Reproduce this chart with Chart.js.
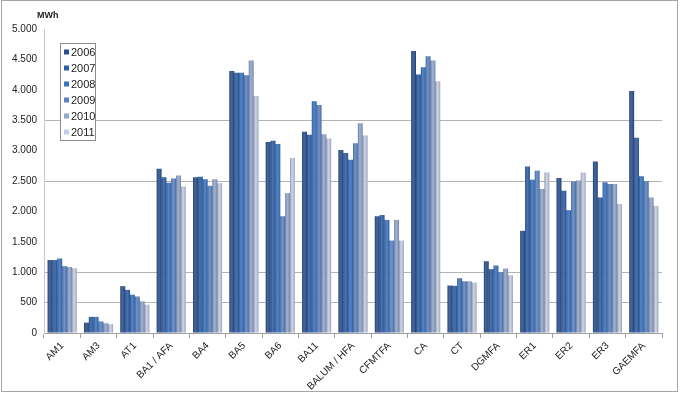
<!DOCTYPE html>
<html>
<head>
<meta charset="utf-8">
<script src="https://cdn.jsdelivr.net/npm/chart.js@4.4.0/dist/chart.umd.min.js"></script>
<style>
  html, body { margin: 0; padding: 0; background: #fff; }
  #wrap { position: relative; width: 682px; height: 395px; }
</style>
</head>
<body>
<div id="wrap"><canvas id="grafico" width="682" height="395"></canvas></div>
<script>
// categorias (centros) y consumo por año en MWh
const categorias = ['AM1', 'AM3', 'AT1', 'BA1 / AFA', 'BA4', 'BA5', 'BA6', 'BA11', 'BALUM / HFA',
  'CFMTFA', 'CA', 'CT', 'DGMFA', 'ER1', 'ER2', 'ER3', 'GAEMFA'];
const anios = ['2006', '2007', '2008', '2009', '2010', '2011'];

const v2006 = [1200, 170, 770, 2700, 2560, 4310, 3140, 3310, 3010, 1920, 4640, 780, 1180, 1680, 2550, 2820, 3980];
const v2007 = [1200, 265, 710, 2560, 2570, 4280, 3160, 3260, 2960, 1940, 4250, 775, 1050, 2740, 2340, 2230, 3210];
const v2008 = [1225, 265, 630, 2470, 2530, 4280, 3110, 3810, 2850, 1860, 4370, 900, 1110, 2520, 2020, 2480, 2580];
const v2009 = [1100, 190, 600, 2540, 2420, 4240, 1920, 3750, 3120, 1520, 4550, 850, 1000, 2670, 2490, 2450, 2500];
const v2010 = [1085, 160, 520, 2590, 2530, 4480, 2300, 3270, 3450, 1860, 4480, 850, 1060, 2370, 2510, 2450, 2230];
const v2011 = [1065, 145, 465, 2410, 2465, 3900, 2880, 3200, 3250, 1520, 4140, 830, 950, 2640, 2640, 2120, 2090];
const series = [v2006, v2007, v2008, v2009, v2010, v2011];

// valores del eje Y que llevan línea de cuadrícula en el original
const lineasGrid = [500, 1000, 2500, 3500];

const colores = ['#274f8c', '#2d5ea6', '#3873c0', '#5a84c2', '#91a6cc', '#c3cde2'];

// formato 5.000
function fmt(v) {
  return String(v).replace(/\B(?=(\d{3})+(?!\d))/g, '.');
}

// sombreado tipo cilindro sobre cada barra
const sombreado = {
  id: 'sombreado',
  afterDatasetsDraw(chart) {
    const ctx = chart.ctx;
    chart.data.datasets.forEach((ds, i) => {
      chart.getDatasetMeta(i).data.forEach(bar => {
        const x0 = bar.x - bar.width / 2;
        const x1 = bar.x + bar.width / 2;
        const g = ctx.createLinearGradient(x0, 0, x1, 0);
        g.addColorStop(0, 'rgba(0,0,30,0.30)');
        g.addColorStop(0.45, 'rgba(255,255,255,0.12)');
        g.addColorStop(1, 'rgba(0,0,30,0.22)');
        ctx.save();
        ctx.fillStyle = g;
        ctx.fillRect(x0, bar.y, x1 - x0, bar.base - bar.y);
        ctx.restore();
      });
    });
  }
};

// marco, unidad y leyenda dentro del área
const extras = {
  id: 'extras',
  afterDraw(chart) {
    const ctx = chart.ctx;
    ctx.save();
    ctx.strokeStyle = '#a6a6a6';
    ctx.lineWidth = 1;
    ctx.strokeRect(1.5, 0.5, 676, 391);

    ctx.fillStyle = '#222';
    ctx.font = 'bold 9px "Liberation Sans", Arial, sans-serif';
    ctx.textBaseline = 'middle';
    ctx.fillText('MWh', 37, 16);

    // leyenda
    ctx.fillStyle = '#fff';
    ctx.fillRect(60.5, 43.5, 35, 97);
    ctx.strokeStyle = '#8c8c8c';
    ctx.strokeRect(60.5, 43.5, 35, 97);
    ctx.font = '11px "Liberation Sans", Arial, sans-serif';
    chart.data.datasets.forEach((ds, i) => {
      const y = 52 + i * 16;
      ctx.fillStyle = ds.backgroundColor;
      ctx.fillRect(64, y - 2.5, 5, 5);
      ctx.fillStyle = '#222';
      ctx.fillText(ds.label, 71, y + 0.5);
    });
    ctx.restore();
  }
};

const chart = new Chart(document.getElementById('grafico'), {
  type: 'bar',
  data: {
    labels: categorias,
    datasets: anios.map((a, i) => ({
      label: a,
      data: series[i],
      backgroundColor: colores[i],
      borderWidth: 0,
      categoryPercentage: 0.8,
      barPercentage: 1.0
    }))
  },
  options: {
    responsive: false,
    animation: false,
    layout: { padding: { left: 0, right: 20, top: 29, bottom: 0 } },
    plugins: {
      legend: { display: false },
      tooltip: { enabled: false }
    },
    scales: {
      x: {
        grid: {
          offset: true,
          drawOnChartArea: false,
          drawTicks: true,
          tickLength: 5,
          color: '#a0a0a0'
        },
        border: { color: '#a0a0a0' },
        ticks: {
          maxRotation: 45,
          minRotation: 45,
          autoSkip: false,
          padding: 2,
          color: '#222',
          font: { family: '"Liberation Sans", Arial, sans-serif', size: 10 }
        },
        afterFit(scale) { scale.height = 395 - 333; }
      },
      y: {
        min: 0,
        max: 5000,
        ticks: {
          stepSize: 500,
          padding: 7,
          color: '#222',
          font: { family: '"Liberation Sans", Arial, sans-serif', size: 10 },
          callback: v => fmt(v)
        },
        grid: {
          drawTicks: false,
          color: c => lineasGrid.includes(c.tick.value) ? '#b4b4b4' : 'rgba(0,0,0,0)',
          lineWidth: 1
        },
        border: { color: '#c8c8c8' },
        afterFit(scale) { scale.width = 44; }
      }
    }
  },
  plugins: [sombreado, extras]
});
</script>
</body>
</html>
